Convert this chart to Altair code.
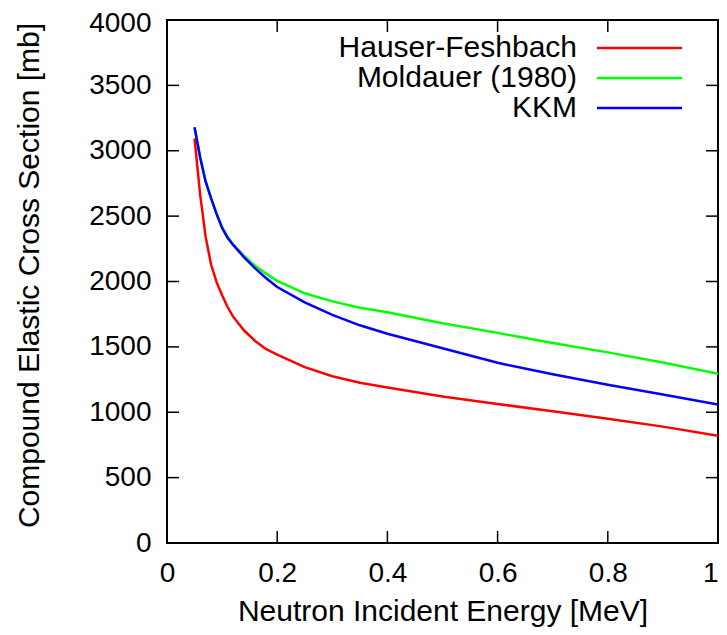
import altair as alt
import pandas as pd

energy = [0.05, 0.06, 0.07, 0.08, 0.09, 0.10, 0.11, 0.12, 0.14, 0.16, 0.18, 0.20, 0.25, 0.30, 0.35, 0.40, 0.50, 0.60, 0.70, 0.80, 0.90, 1.00]
hauser_feshbach = [3095, 2670, 2345, 2130, 1995, 1895, 1805, 1731, 1625, 1545, 1482, 1440, 1345, 1275, 1225, 1190, 1120, 1063, 1008, 950, 890, 820]
moldauer = [3180, 2960, 2770, 2640, 2520, 2415, 2340, 2285, 2195, 2120, 2060, 2005, 1910, 1848, 1800, 1765, 1680, 1607, 1530, 1458, 1380, 1295]
kkm = [3180, 2950, 2765, 2635, 2515, 2410, 2335, 2280, 2185, 2100, 2025, 1958, 1840, 1745, 1665, 1600, 1490, 1378, 1290, 1210, 1135, 1060]

series_names = ["Hauser-Feshbach", "Moldauer (1980)", "KKM"]
series_colors = ["#ff0000", "#00ff00", "#0000ff"]
x_ticks = [0, 0.2, 0.4, 0.6, 0.8, 1.0]
y_ticks = [0, 500, 1000, 1500, 2000, 2500, 3000, 3500, 4000]

W, H = 551, 523
FONT = "Liberation Sans"
TICK = 12

rows = []
for name, vals in zip(series_names, [hauser_feshbach, moldauer, kkm]):
    for e, v in zip(energy, vals):
        rows.append({"E": e, "v": v, "series": name})
df = pd.DataFrame(rows)
dfx = pd.DataFrame({"E": x_ticks})
dfy = pd.DataFrame({"v": y_ticks})
dleg = pd.DataFrame({"series": series_names})

color = alt.Color("series:N", scale=alt.Scale(domain=series_names, range=series_colors), legend=None)
xs = alt.Scale(domain=[0, 1], nice=False)
ys = alt.Scale(domain=[0, 4000], nice=False)

lines = alt.Chart(df).mark_line(strokeWidth=2.5, clip=True).encode(
    x=alt.X("E:Q", scale=xs, title="Neutron Incident Energy [MeV]",
            axis=alt.Axis(values=x_ticks, labelExpr="datum.value", tickSize=0, domain=False, grid=False,
                          labelAlign={"condition": {"test": "datum.value >= 1", "value": "right"}, "value": "center"},
                          labelPadding=16, titlePadding=9, labelFontSize=28, titleFontSize=30)),
    y=alt.Y("v:Q", scale=ys, title="Compound Elastic Cross Section [mb]",
            axis=alt.Axis(values=y_ticks, format="d", tickSize=0, domain=False, grid=False,
                          labelOffset={"condition": {"test": "datum.value >= 4000", "value": 3}, "value": 0},
                          labelPadding=16, titlePadding=44, titleY=255, labelFontSize=28, titleFontSize=30)),
    color=color,
    order=alt.Order("E:Q"),
)

xt_bottom = alt.Chart(dfx).mark_rule(color="black", strokeWidth=1.5).encode(
    x=alt.X("E:Q", scale=xs), y=alt.value(H), y2=alt.value(H - TICK))
xt_top = alt.Chart(dfx).mark_rule(color="black", strokeWidth=1.5).encode(
    x=alt.X("E:Q", scale=xs), y=alt.value(0), y2=alt.value(TICK))
yt_left = alt.Chart(dfy).mark_rule(color="black", strokeWidth=1.5).encode(
    y=alt.Y("v:Q", scale=ys), x=alt.value(0), x2=alt.value(TICK))
yt_right = alt.Chart(dfy).mark_rule(color="black", strokeWidth=1.5).encode(
    y=alt.Y("v:Q", scale=ys), x=alt.value(W), x2=alt.value(W - TICK))

main = alt.layer(xt_bottom, xt_top, yt_left, yt_right, lines)

leg_y = alt.Y("series:N", scale=alt.Scale(type="point", domain=series_names, range=[28, 88], padding=0), axis=None)
leg_text = alt.Chart(dleg).mark_text(align="right", baseline="middle", font=FONT, fontSize=30, color="black").encode(
    x=alt.value(410), y=leg_y, text="series:N")
leg_line = alt.Chart(dleg).mark_rule(strokeWidth=2.5).encode(
    x=alt.value(430), x2=alt.value(515), y=leg_y, color=color)
legend = alt.layer(leg_text, leg_line)

chart = alt.layer(main, legend).resolve_scale(y="independent").properties(
    width=W, height=H,
    autosize=alt.AutoSizeParams(type="none"),
    padding={"left": 159, "top": 12, "right": 1, "bottom": 84},
).configure_view(stroke="black", strokeWidth=2).configure_axis(
    labelFont=FONT, labelColor="black", titleFont=FONT,
    titleColor="black", titleFontWeight="normal", labelOverlap=False, labelFlush=False
)

chart.save("out.html", embed_options={"renderer": "svg", "actions": False})
